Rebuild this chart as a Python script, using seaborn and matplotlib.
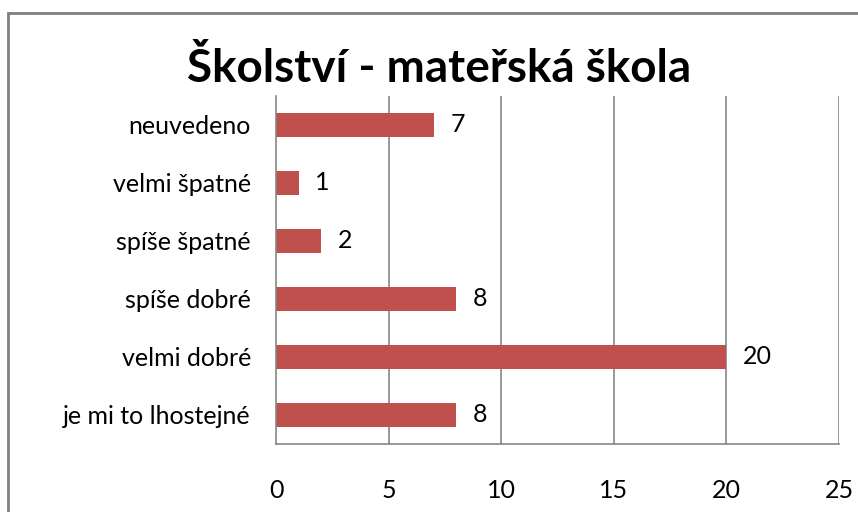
import matplotlib.pyplot as plt
import matplotlib.patches as mpatches
import numpy as np
import pandas as pd
import seaborn as sns

# data
categories = ["neuvedeno", "velmi špatné", "spíše špatné", "spíše dobré", "velmi dobré", "je mi to lhostejné"]
counts = [7, 1, 2, 8, 20, 8]
x_ticks = [0, 5, 10, 15, 20, 25]
title = "Školství - mateřská škola"

BAR_COLOR = "#C0504D"
GRID_COLOR = "#868686"

sns.set_theme(style="white")
plt.rcParams["font.family"] = ["Lato", "DejaVu Sans"]

df = pd.DataFrame({"kategorie": categories, "pocet": counts})

fig = plt.figure(figsize=(8.58, 5.12), dpi=100)
ax = fig.add_axes([276 / 858, 1 - 444 / 512, (839 - 276) / 858, (444 - 96) / 512])

sns.barplot(data=df, y="kategorie", x="pocet", color=BAR_COLOR, width=0.4,
            saturation=1, ax=ax, orient="h", linewidth=0)

ax.set_xlim(0, 25)
ax.set_ylim(len(categories) - 0.5, -0.5)
ax.set_xlabel("")
ax.set_ylabel("")

# vertical gridlines
ax.set_xticks(x_ticks)
ax.set_xticklabels([str(t) for t in x_ticks], fontsize=18, color="#000000")
for t in x_ticks[1:]:
    ax.axvline(t, color=GRID_COLOR, lw=1.2, zorder=0)
ax.tick_params(axis="x", direction="out", length=7, width=1.2, color=GRID_COLOR, pad=18)

# category ticks between rows, labels centred
ax.set_yticks(np.arange(-0.5, len(categories) + 0.5, 1))
ax.set_yticklabels([])
ax.set_yticks(np.arange(len(categories)), minor=True)
ax.set_yticklabels(categories, minor=True, fontsize=18, color="#000000")
ax.tick_params(axis="y", which="major", direction="out", length=8, width=1.2, color=GRID_COLOR)
ax.tick_params(axis="y", which="minor", length=0, pad=18)

for side in ["top", "right"]:
    ax.spines[side].set_visible(False)
for side in ["left", "bottom"]:
    ax.spines[side].set_color(GRID_COLOR)
    ax.spines[side].set_linewidth(1.2)

# value labels
for i, v in enumerate(counts):
    ax.annotate(str(v), (v, i), xytext=(12, 0), textcoords="offset points",
                va="center", ha="left", fontsize=18, color="#000000")

fig.text(439 / 858, 1 - 68 / 512, title, ha="center", va="center", fontsize=33,
         fontweight="bold", color="#000000")

# outer chart frame (cut off at right and bottom)
frame = mpatches.Rectangle((8 / 858, -0.1), 1.2, 1 - 13 / 512 + 0.1, transform=fig.transFigure,
                           fill=False, edgecolor="#808080", lw=2, clip_on=False)
fig.patches.append(frame)

fig.savefig("out.png", dpi=100)
